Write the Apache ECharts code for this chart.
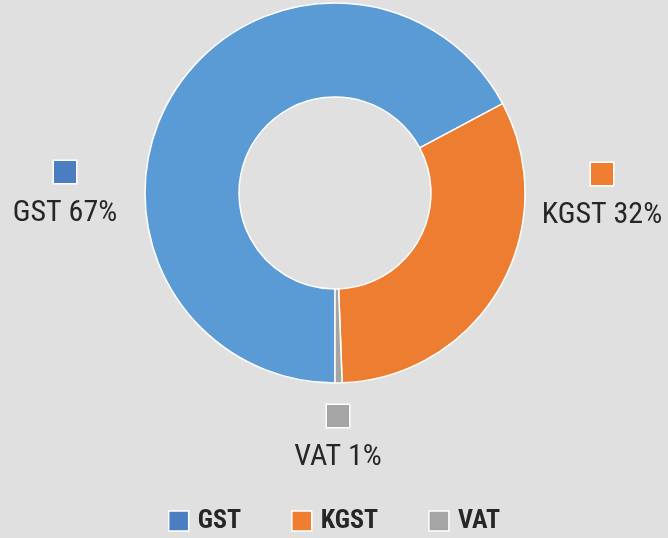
<!DOCTYPE html>
<html lang="en">
<head>
    <meta charset="UTF-8">
    <title>Tax share</title>
    <script src="https://cdn.jsdelivr.net/npm/echarts/dist/echarts.min.js"></script>
    <style>
        body { margin: 0; background-color: #e0e0e0; }
        #chart { width: 668px; height: 538px; }
    </style>
</head>
<body>
    <div id="chart"></div>
    <script>
        // data (shares; labels show them rounded)
        let taxNames = ['GST', 'KGST', 'VAT'];
        let taxShares = [67.2, 32.2, 0.6];

        // colours: slice fill and the (darker) marker used in labels/legend
        let sliceColors = ['#5b9bd5', '#ed7d31', '#a5a5a5'];
        let markerColors = ['#4a7ec0', '#ef7e30', '#a5a5a5'];

        // where each label block sits (label, not the slice)
        let labelSpots = [[65, 202], [602, 204], [338, 446]];

        let font = '"Liberation Sans Narrow", "Arial Narrow", "Roboto Condensed", "Liberation Sans", sans-serif';

        let pieData = taxNames.map(function (name, i) {
            return {
                name: name,
                value: taxShares[i],
                itemStyle: { color: sliceColors[i] },
                label: {
                    rich: {
                        box: {
                            width: 22, height: 22, lineHeight: 22,
                            backgroundColor: markerColors[i],
                            borderColor: '#ffffff', borderWidth: 1.5
                        },
                        txt: {
                            fontFamily: font, fontSize: 30, lineHeight: 60, color: '#262626'
                        }
                    }
                }
            };
        });

        let option = {
            backgroundColor: '#e0e0e0',
            legend: {
                bottom: -1,
                left: 'center',
                icon: 'rect',
                itemWidth: 20,
                itemHeight: 20,
                itemGap: 50,
                itemStyle: { borderColor: '#ffffff', borderWidth: 1.5 },
                textStyle: {
                    fontFamily: font, fontSize: 26, fontWeight: 'bold', color: '#262626',
                    padding: [0, 0, 0, 4]
                },
                data: taxNames.map(function (name, i) {
                    return { name: name, itemStyle: { color: markerColors[i] } };
                })
            },
            series: [{
                type: 'pie',
                center: [335, 193],
                radius: [96, 190],
                startAngle: 270,
                clockwise: true,
                avoidLabelOverlap: false,
                itemStyle: { borderColor: '#ffffff', borderWidth: 1.5 },
                emphasis: { disabled: true },
                label: {
                    show: true,
                    position: 'outside',
                    formatter: function (p) {
                        return '{box|}\n{txt|' + p.name + ' ' + Math.round(p.percent) + '%}';
                    },
                    align: 'center'
                },
                labelLine: { show: false },
                labelLayout: function (params) {
                    let s = labelSpots[params.dataIndex];
                    return { x: s[0], y: s[1], align: 'center', verticalAlign: 'middle' };
                },
                data: pieData
            }]
        };

        let chart = echarts.init(document.getElementById('chart'));
        chart.setOption(option);
    </script>
</body>
</html>
